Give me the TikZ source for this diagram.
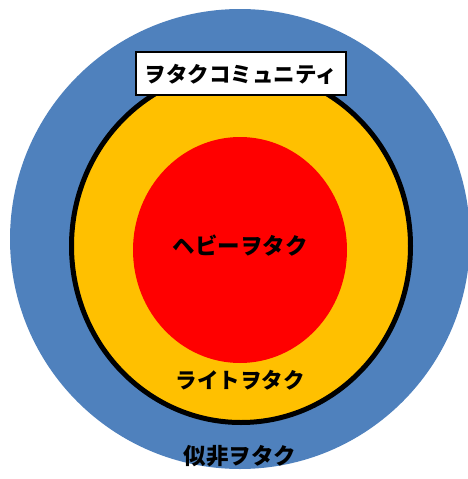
\documentclass[tikz,border=0pt]{standalone}
\usepackage{fontspec}
\newfontfamily\jp{Noto Sans CJK JP}
\definecolor{outerblue}{HTML}{4F81BD}
\definecolor{lightorange}{HTML}{FFC000}
\definecolor{heavyred}{HTML}{FF0000}
\tikzset{
  lbl/.style={font=\jp\bfseries\fontsize{21.5}{24}\selectfont, text=black, inner sep=0pt},
  biglbl/.style={lbl, font=\jp\bfseries\fontsize{22.5}{25}\selectfont},
  titlebox/.style={draw=black, line width=2.5pt, fill=white, minimum width=210pt, minimum height=43pt, inner sep=0pt}
}
\begin{document}
\begin{tikzpicture}[x=1pt,y=-1pt]
\useasboundingbox (0,0) rectangle (468,479);
\fill[white] (0,0) rectangle (468,479);
\fill[outerblue] (240,239) circle (230);
\draw[fill=lightorange, line width=5pt] (241,246) ellipse [x radius=169.5, y radius=176.5];
\fill[heavyred] (240,250) ellipse [x radius=107, y radius=113];
\node[titlebox] (title) at (241,73.5) {};
\node[lbl] (community) at (241,74) {ヲタクコミュニティ};
\node[biglbl] (heavy) at (240,246) {ヘビーヲタク};
\node[lbl] (light) at (240,380) {ライトヲタク};
\node[biglbl] (pseudo) at (240,456) {似非ヲタク};
\end{tikzpicture}
\end{document}
